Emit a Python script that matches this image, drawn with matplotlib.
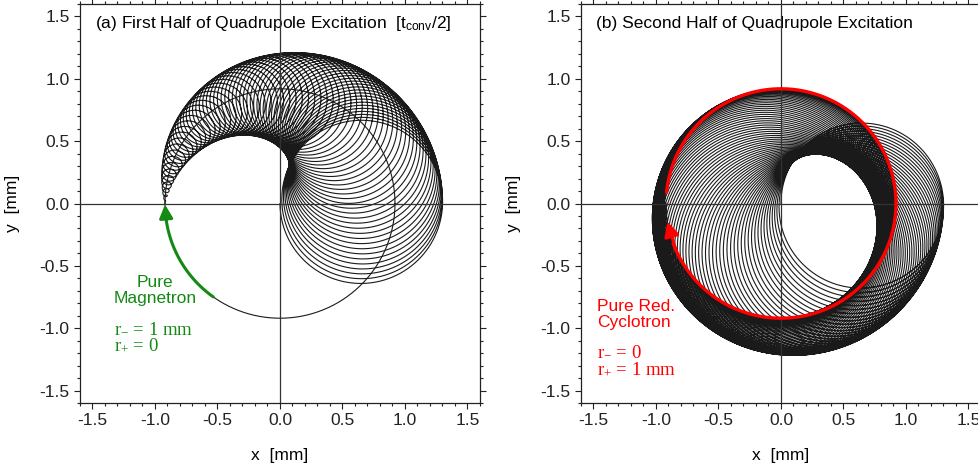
import numpy as np
import matplotlib
matplotlib.use("Agg")
import matplotlib.pyplot as plt
from matplotlib.ticker import MultipleLocator

plt.rcParams['font.family'] = ['Liberation Sans', 'DejaVu Sans']
plt.rcParams['font.size'] = 12.5
plt.rcParams['axes.unicode_minus'] = False

# trajectory parameters
R = 0.92                 # drawn radius of pure magnetron / pure cyclotron orbit [mm]
freq_ratio = 136         # cyclotron turns per magnetron turn
phase_c = np.pi          # start phase of cyclotron vector
halves = [(0.0, np.pi), (np.pi, 2 * np.pi)]   # magnetron phase in each half
pts_per_turn = 360

titles = ["(a) First Half of Quadrupole Excitation  [t$\\mathregular{_{conv}}$/2]",
          "(b) Second Half of Quadrupole Excitation"]
ticks = [-1.5, -1.0, -0.5, 0.0, 0.5, 1.0, 1.5]
lim = 1.6

green = '#138a13'
red = '#ff0000'

# arc (angles in degrees) for the colored guide orbits
green_arc = [235.0, 180.5]          # pure magnetron, ends at arrow tip
red_arc = [175.0, -171.0]           # pure cyclotron, clockwise nearly full turn


def trajectory(phi0, phi1):
    n = int((phi1 - phi0) / (2 * np.pi) * freq_ratio * pts_per_turn)
    phi = np.linspace(phi0, phi1, n)
    r_m = R * np.cos(phi / 4)
    r_p = R * np.sin(phi / 4)
    z = r_m * np.exp(1j * (np.pi - phi)) + r_p * np.exp(1j * (phase_c - freq_ratio * phi))
    return z.real, z.imag


def arc(a0, a1, n=400):
    a = np.radians(np.linspace(a0, a1, n))
    return R * np.cos(a), R * np.sin(a)


fig = plt.figure(figsize=(9.79, 4.65), dpi=100)
ax1 = fig.add_axes([80 / 979, 1 - 403 / 465, 400 / 979, 399 / 465])
ax2 = fig.add_axes([581 / 979, 1 - 403 / 465, 400 / 979, 399 / 465])

for ax, (p0, p1), title in zip([ax1, ax2], halves, titles):
    x, y = trajectory(p0, p1)
    ax.plot(x, y, color='#1a1a1a', lw=0.8, zorder=2)
    ax.axhline(0, color='#333333', lw=0.9, zorder=4)
    ax.axvline(0, color='#333333', lw=0.9, zorder=4)
    ax.set_xlim(-lim, lim)
    ax.set_ylim(-lim, lim)
    ax.set_xticks(ticks)
    ax.set_yticks(ticks)
    ax.xaxis.set_minor_locator(MultipleLocator(0.1))
    ax.yaxis.set_minor_locator(MultipleLocator(0.1))
    ax.tick_params(which='both', direction='out', top=True, right=True,
                   width=0.8, labelsize=12.5, colors='#222222')
    ax.tick_params(which='major', length=4)
    ax.tick_params(which='minor', length=2.2)
    for s in ax.spines.values():
        s.set_linewidth(0.9)
        s.set_color('#222222')
    ax.set_xlabel("x  [mm]", fontsize=12.5)
    ax.set_ylabel("y  [mm]", fontsize=12.5)
    ax.xaxis.set_label_coords(0.5, -0.113)
    ax.yaxis.set_label_coords(-0.15, 0.5)
    ax.text(-1.48, 1.44, title, fontsize=12.5, va='center', ha='left')

# panel a: pure magnetron orbit and arrow
cx, cy = arc(0, 360)
ax1.plot(cx, cy, color='#1a1a1a', lw=0.8, zorder=2)
gx, gy = arc(*green_arc)
ax1.plot(gx[:-40], gy[:-40], color=green, lw=2.2, zorder=5, solid_capstyle='butt')
ax1.annotate('', xy=(gx[-1], gy[-1]), xytext=(gx[-60], gy[-60]),
             arrowprops=dict(arrowstyle='-|>', mutation_scale=20, color=green,
                             lw=2.2, shrinkA=0, shrinkB=0), zorder=6)
ax1.text(-1.0, -0.70, "Pure\nMagnetron", color=green, fontsize=12.5,
         ha='center', va='center', linespacing=1.1)
ax1.text(-1.33, -1.07, "r$\\mathregular{_{-}}$ = 1 mm\nr$\\mathregular{_{+}}$ = 0",
         color=green, fontsize=13.5, ha='left', va='center', linespacing=1.05,
         family=['Liberation Serif', 'DejaVu Serif'])

# panel b: pure cyclotron orbit and arrow
rx, ry = arc(*red_arc, n=800)
ax2.plot(rx[:-25], ry[:-25], color=red, lw=2.4, zorder=5, solid_capstyle='butt')
ax2.annotate('', xy=(rx[-1], ry[-1]), xytext=(rx[-35], ry[-35]),
             arrowprops=dict(arrowstyle='-|>', mutation_scale=22, color=red,
                             lw=2.2, shrinkA=0, shrinkB=0), zorder=6)
ax2.text(-1.47, -0.89, "Pure Red.\nCyclotron", color=red, fontsize=12.5,
         ha='left', va='center', linespacing=1.1)
ax2.text(-1.47, -1.26, "r$\\mathregular{_{-}}$ = 0\nr$\\mathregular{_{+}}$ = 1 mm",
         color=red, fontsize=13.5, ha='left', va='center', linespacing=1.05,
         family=['Liberation Serif', 'DejaVu Serif'])

fig.savefig("out.png", dpi=100)
